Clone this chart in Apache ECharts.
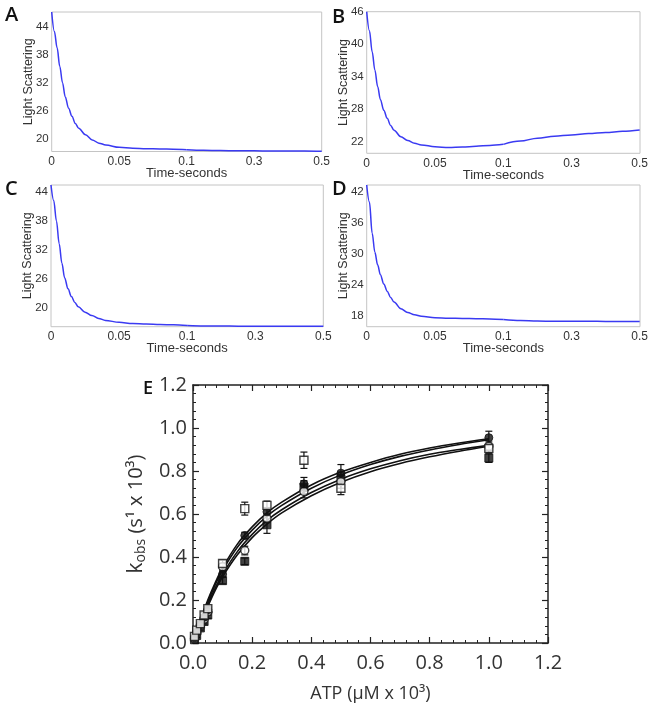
<!DOCTYPE html>
<html>
<head>
<meta charset="utf-8">
<script src="https://cdn.jsdelivr.net/npm/echarts@6/dist/echarts.min.js"></script>
<style>html,body{margin:0;padding:0;background:#fff;}#chart{width:651px;height:711px;}</style>
</head>
<body>
<div id="chart"></div>
<script>
// ---------- Panels A-D : light scattering traces ----------
const times = [0, 0.002, 0.004, 0.006, 0.008, 0.01, 0.0125, 0.015, 0.0175, 0.02, 0.025, 0.03, 0.035, 0.04, 0.05, 0.06, 0.07, 0.08, 0.09, 0.1, 0.15, 0.2, 0.25, 0.3, 0.35, 0.4, 0.45, 0.5];
const lsA = [47.2, 43.0, 39.5, 35.5, 32.0, 29.0, 26.5, 24.8, 23.2, 22.2, 20.8, 19.7, 19.0, 18.6, 18.1, 17.9, 17.8, 17.75, 17.7, 17.6, 17.45, 17.4, 17.35, 17.35, 17.3, 17.3, 17.3, 17.25];
const lsB = [46.0, 42.5, 38.6, 35.2, 32.2, 29.8, 27.8, 26.3, 25.0, 24.1, 22.9, 22.2, 21.7, 21.4, 21.05, 20.9, 21.0, 21.15, 21.3, 21.5, 22.1, 22.65, 23.0, 23.25, 23.5, 23.7, 23.9, 24.15];
const lsC = [45.4, 42.2, 38.0, 33.3, 29.3, 26.3, 24.0, 22.4, 21.2, 20.3, 19.2, 18.5, 17.9, 17.5, 17.1, 16.85, 16.75, 16.65, 16.6, 16.45, 16.35, 16.35, 16.3, 16.3, 16.3, 16.3, 16.3, 16.3];
const lsD = [43.3, 40.0, 34.0, 30.3, 27.9, 26.0, 24.2, 22.8, 21.6, 20.7, 19.4, 18.7, 18.25, 17.95, 17.7, 17.6, 17.55, 17.5, 17.45, 17.35, 17.15, 17.05, 17.0, 17.0, 17.0, 16.97, 16.97, 16.97];
const xTicksLeft = [0, 0.05, 0.1];
const xTicksRight = [0.3, 0.5];
const yTicksA = [20, 26, 32, 38, 44];
const yTicksB = [22, 28, 34, 40, 46];
const yTicksC = [20, 26, 32, 38, 44];
const yTicksD = [18, 24, 30, 36, 42];

// ---------- Panel E : kobs vs ATP ----------
const atp = [0.005, 0.0125, 0.025, 0.0375, 0.05, 0.1, 0.175, 0.25, 0.375, 0.5, 1.0];
const kOpenSq   = [0.03, 0.06, 0.09, 0.13, 0.16, 0.37, 0.625, 0.64, 0.85, 0.72, 0.905];
const eOpenSq   = [0.008, 0.01, 0.01, 0.012, 0.015, 0.015, 0.03, 0.02, 0.038, 0.03, 0.02];
const kFillCirc = [0.025, 0.05, 0.085, 0.12, 0.155, 0.32, 0.5, 0.61, 0.74, 0.79, 0.955];
const eFillCirc = [0.008, 0.01, 0.01, 0.012, 0.015, 0.015, 0.015, 0.02, 0.03, 0.04, 0.03];
const kOpenCirc = [0.02, 0.045, 0.08, 0.11, 0.145, 0.355, 0.43, 0.58, 0.705, 0.75, 0.915];
const eOpenCirc = [0.008, 0.01, 0.01, 0.012, 0.015, 0.015, 0.02, 0.02, 0.03, 0.03, 0.02];
const kFillSq   = [0.015, 0.035, 0.07, 0.1, 0.13, 0.29, 0.38, 0.55, 0.725, 0.765, 0.86];
const eFillSq   = [0.008, 0.01, 0.01, 0.012, 0.015, 0.015, 0.015, 0.04, 0.03, 0.03, 0.02];
const fitX = [0, 0.025, 0.05, 0.075, 0.1, 0.15, 0.2, 0.25, 0.3, 0.4, 0.5, 0.6, 0.7, 0.8, 0.9, 1.0];
const fit1 = [0, 0.105, 0.2, 0.28, 0.35, 0.46, 0.54, 0.605, 0.655, 0.735, 0.795, 0.84, 0.878, 0.907, 0.93, 0.95];
const fit2 = [0, 0.1, 0.19, 0.27, 0.338, 0.445, 0.525, 0.59, 0.64, 0.72, 0.782, 0.83, 0.868, 0.898, 0.923, 0.945];
const fit3 = [0, 0.095, 0.18, 0.255, 0.32, 0.425, 0.505, 0.57, 0.62, 0.7, 0.762, 0.81, 0.848, 0.878, 0.9, 0.92];
const fit4 = [0, 0.09, 0.17, 0.245, 0.308, 0.41, 0.49, 0.553, 0.605, 0.685, 0.748, 0.797, 0.835, 0.866, 0.892, 0.915];

const chart = echarts.init(document.getElementById('chart'));
const grids = [], xAxes = [], yAxes = [], series = [], titles = [];
const smallFont = 'Liberation Sans';
const txtColor = '#333';
const blue = '#3a3af2';

const panels = [
  {name: 'A', vals: lsA, yTicks: yTicksA, yMin: 17.2, yMax: 47.2, l: 51.7, r: 321.7, t: 12, b: 151.5},
  {name: 'B', vals: lsB, yTicks: yTicksB, yMin: 19.85, yMax: 46.0, l: 366.7, r: 640, t: 11.7, b: 153.3},
  {name: 'C', vals: lsC, yTicks: yTicksC, yMin: 16.2, yMax: 45.4, l: 51, r: 323.3, t: 185, b: 326.7},
  {name: 'D', vals: lsD, yTicks: yTicksD, yMin: 15.95, yMax: 43.3, l: 366.7, r: 640, t: 185, b: 326.7}
];

panels.forEach(p => {
  const gi = grids.length;
  const s = (p.l + p.r) / 2;
  const h = p.b - p.t;
  grids.push({left: p.l, top: p.t, width: p.r - p.l, height: h, show: true, borderColor: '#c4c4c4', borderWidth: 1, backgroundColor: 'transparent'});
  xAxes.push({gridIndex: gi, type: 'value', min: 0, max: 1, axisLine: {show: false}, axisTick: {show: false}, axisLabel: {show: false}, splitLine: {show: false},
    name: 'Time-seconds', nameLocation: 'middle', nameGap: 15.5, nameTextStyle: {fontFamily: smallFont, fontSize: 13, color: txtColor}});
  yAxes.push({gridIndex: gi, type: 'value', min: 0, max: 1, axisLine: {show: false}, axisTick: {show: false}, axisLabel: {show: false}, splitLine: {show: false},
    name: 'Light Scattering', nameLocation: 'middle', nameGap: 17, nameTextStyle: {fontFamily: smallFont, fontSize: 12.5, color: txtColor}});
  grids.push({left: p.l, top: p.t, width: s - p.l, height: h});
  xAxes.push({gridIndex: gi + 1, type: 'value', min: 0, max: 0.1, axisLine: {show: false}, axisTick: {show: false}, splitLine: {show: false},
    axisLabel: {customValues: xTicksLeft, margin: 4, fontFamily: smallFont, fontSize: 12, color: txtColor}});
  yAxes.push({gridIndex: gi + 1, type: 'value', min: p.yMin, max: p.yMax, axisLine: {show: false}, axisTick: {show: false}, splitLine: {show: false},
    axisLabel: {customValues: p.yTicks, margin: 3, fontFamily: smallFont, fontSize: 11.5, color: txtColor}});
  grids.push({left: s, top: p.t, width: p.r - s, height: h});
  xAxes.push({gridIndex: gi + 2, type: 'value', min: 0.1, max: 0.5, axisLine: {show: false}, axisTick: {show: false}, splitLine: {show: false},
    axisLabel: {customValues: xTicksRight, margin: 4, fontFamily: smallFont, fontSize: 12, color: txtColor}});
  yAxes.push({gridIndex: gi + 2, type: 'value', min: p.yMin, max: p.yMax, show: false});

  const leftData = [], rightData = [];
  times.forEach((t, i) => {
    if (t <= 0.1) leftData.push([t, p.vals[i]]);
    if (t >= 0.1) rightData.push([t, p.vals[i]]);
  });
  const common = {type: 'line', showSymbol: false, smooth: 0.35, smoothMonotone: 'x', lineStyle: {color: blue, width: 1.5}, silent: true, animation: false};
  series.push(Object.assign({}, common, {xAxisIndex: gi + 1, yAxisIndex: gi + 1, data: leftData}));
  series.push(Object.assign({}, common, {xAxisIndex: gi + 2, yAxisIndex: gi + 2, data: rightData}));
});

titles.push({text: 'A', left: 5, top: 5});
titles.push({text: 'B', left: 332, top: 7});
titles.push({text: 'C', left: 5, top: 179});
titles.push({text: 'D', left: 332, top: 179});
titles.forEach(t => { t.padding = 0; t.textStyle = {fontFamily: 'Open Sans', fontSize: 20, fontWeight: 600, color: '#111'}; });
titles.push({text: 'E', left: 143, top: 380, padding: 0, textStyle: {fontFamily: 'Open Sans', fontSize: 18, fontWeight: 600, color: '#111'}});

// ---------- Panel E ----------
const gE = grids.length;
grids.push({left: 193, top: 385, width: 355, height: 258});
const eFont = 'Open Sans';
const axisLineE = {show: true, onZero: false, lineStyle: {color: '#222', width: 1.5}};
const tickE = {show: true, inside: true, length: 6, lineStyle: {color: '#222', width: 1.2}};
const minorE = {show: true, splitNumber: 5, length: 3, lineStyle: {color: '#222', width: 1}};
const xE = xAxes.length;
xAxes.push({gridIndex: gE, type: 'value', position: 'bottom', min: 0, max: 1.2, interval: 0.2, axisLine: axisLineE, axisTick: tickE, minorTick: minorE, splitLine: {show: false},
  axisLabel: {formatter: v => v.toFixed(1), margin: 10, fontFamily: eFont, fontSize: 20, color: txtColor},
  name: 'ATP (µM x 10³)', nameLocation: 'middle', nameGap: 42, nameTextStyle: {fontFamily: eFont, fontSize: 18, color: txtColor}});
xAxes.push({gridIndex: gE, type: 'value', position: 'top', min: 0, max: 1.2, interval: 0.2, axisLine: axisLineE, axisTick: tickE, minorTick: minorE, splitLine: {show: false}, axisLabel: {show: false}});
const yE = yAxes.length;
yAxes.push({gridIndex: gE, type: 'value', position: 'left', min: 0, max: 1.2, interval: 0.2, axisLine: axisLineE, axisTick: tickE, minorTick: minorE, splitLine: {show: false},
  axisLabel: {formatter: v => v.toFixed(1), margin: 6, fontFamily: eFont, fontSize: 20, color: txtColor},
  name: '{k|k}{sub|obs}{n| (s¹ x 10³)}', nameLocation: 'middle', nameGap: 44,
  nameTextStyle: {color: txtColor, rich: {
    k: {fontFamily: eFont, fontSize: 21, color: txtColor},
    sub: {fontFamily: eFont, fontSize: 14, color: txtColor, verticalAlign: 'bottom', padding: [9, 0, 0, 0]},
    n: {fontFamily: eFont, fontSize: 20, color: txtColor}
  }}});
yAxes.push({gridIndex: gE, type: 'value', position: 'right', min: 0, max: 1.2, interval: 0.2, axisLine: axisLineE, axisTick: tickE, minorTick: minorE, splitLine: {show: false}, axisLabel: {show: false}});

[fit1, fit2, fit3, fit4].forEach(f => {
  series.push({type: 'line', xAxisIndex: xE, yAxisIndex: yE, data: fitX.map((x, i) => [x, f[i]]), showSymbol: false, smooth: 0.3,
    lineStyle: {color: '#111', width: 1.6}, z: 2, silent: true, animation: false});
});

function errSeries(k, e) {
  return {type: 'custom', xAxisIndex: xE, yAxisIndex: yE, z: 3, silent: true, animation: false,
    data: atp.map((x, i) => [x, k[i], e[i]]),
    encode: {x: 0, y: 1},
    renderItem: (params, api) => {
      const x = api.value(0), y = api.value(1), er = api.value(2);
      const top = api.coord([x, y + er]), bot = api.coord([x, y - er]);
      const w = 3.5, st = {stroke: '#111', lineWidth: 1.2};
      return {type: 'group', children: [
        {type: 'line', shape: {x1: top[0], y1: top[1], x2: bot[0], y2: bot[1]}, style: st},
        {type: 'line', shape: {x1: top[0] - w, y1: top[1], x2: top[0] + w, y2: top[1]}, style: st},
        {type: 'line', shape: {x1: bot[0] - w, y1: bot[1], x2: bot[0] + w, y2: bot[1]}, style: st}
      ]};
    }};
}
function markSeries(k, symbol, filled) {
  return {type: 'scatter', xAxisIndex: xE, yAxisIndex: yE, z: 4, silent: true, animation: false,
    data: atp.map((x, i) => [x, k[i]]), symbol: symbol, symbolSize: 8,
    itemStyle: filled ? {color: '#111', borderColor: '#111', borderWidth: 1} : {color: '#fff', borderColor: '#111', borderWidth: 1.4}};
}
series.push(errSeries(kOpenSq, eOpenSq), errSeries(kFillCirc, eFillCirc), errSeries(kOpenCirc, eOpenCirc), errSeries(kFillSq, eFillSq));
series.push(markSeries(kFillSq, 'rect', true), markSeries(kOpenCirc, 'circle', false), markSeries(kFillCirc, 'circle', true), markSeries(kOpenSq, 'rect', false));

chart.setOption({animation: false, title: titles, grid: grids, xAxis: xAxes, yAxis: yAxes, series: series});
</script>
</body>
</html>
